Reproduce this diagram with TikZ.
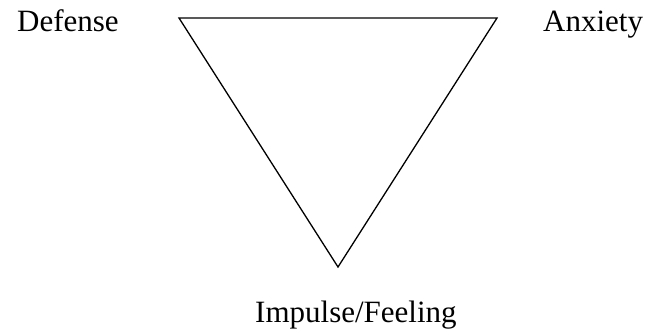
\documentclass[tikz,border=0pt]{standalone}
\usepackage{fontspec}
\setmainfont{Liberation Serif}
\begin{document}
\begin{tikzpicture}[x=1pt,y=-1pt,
  lbl/.style={anchor=base west,inner sep=0pt,font=\fontsize{31}{36}\selectfont},
  tri/.style={draw=black,line width=1.3pt,line join=miter}]
\useasboundingbox (0,0) rectangle (647,329);
\coordinate (tl) at (179,18);
\coordinate (tr) at (497,18);
\coordinate (bt) at (338,267);
\draw[tri] (tl) -- (tr) -- (bt) -- cycle;
\node[lbl] (def) at (17,32) {Defense};
\node[lbl] (anx) at (543,32) {Anxiety};
\node[lbl] (imp) at (255,322) {Impulse/Feeling};
\end{tikzpicture}
\end{document}
